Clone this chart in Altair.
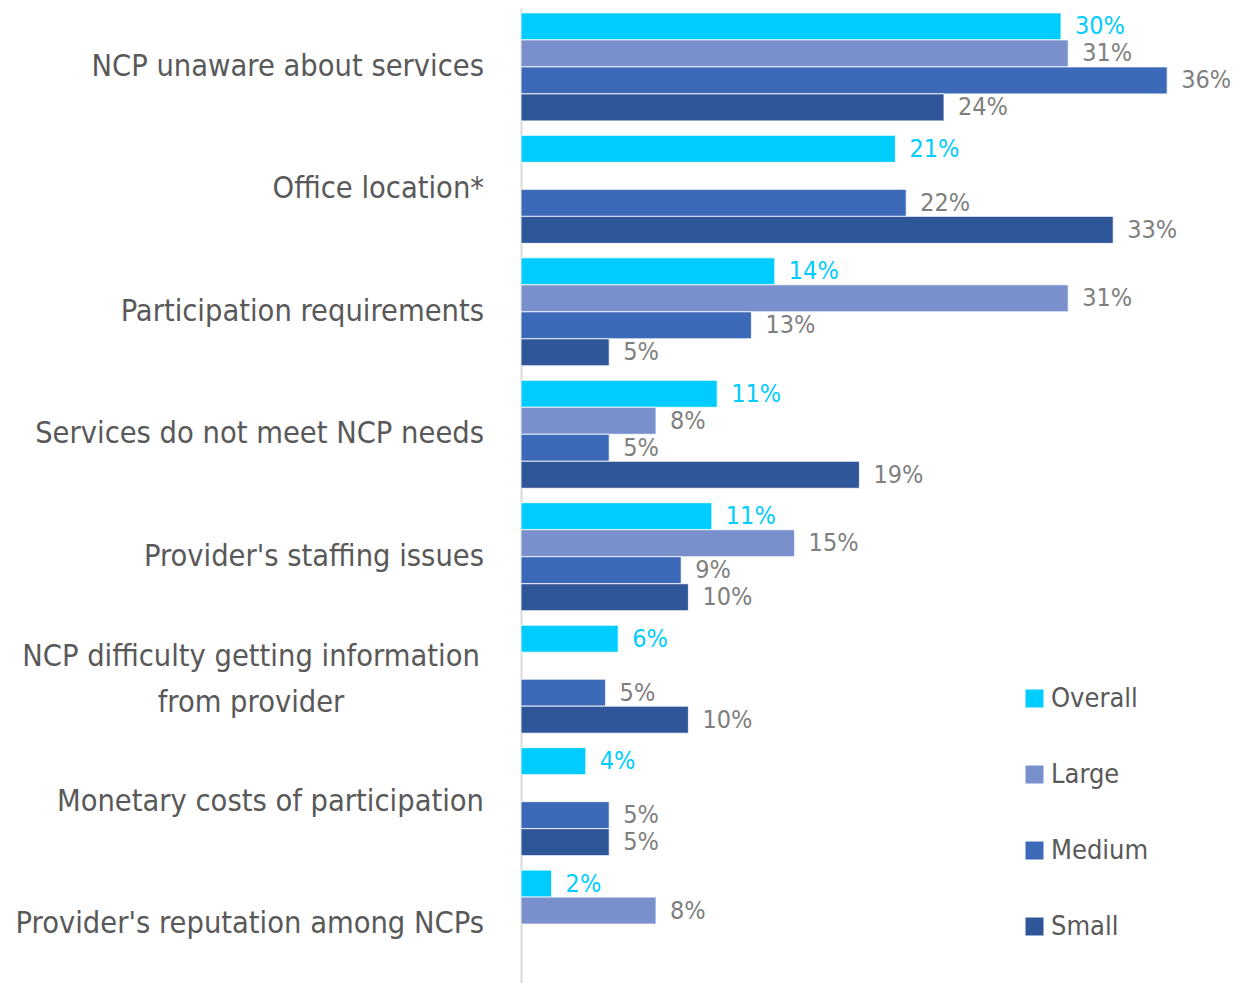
import altair as alt
import pandas as pd

categories = [
    "NCP unaware about services",
    "Office location*",
    "Participation requirements",
    "Services do not meet NCP needs",
    "Provider's staffing issues",
    "NCP difficulty getting information from provider",
    "Monetary costs of participation",
    "Provider's reputation among NCPs",
]
display_labels = [
    "NCP unaware about services",
    "Office location*",
    "Participation requirements",
    "Services do not meet NCP needs",
    "Provider's staffing issues",
    "NCP difficulty getting information\nfrom provider",
    "Monetary costs of participation",
    "Provider's reputation among NCPs",
]
series = ["Overall", "Large", "Medium", "Small"]
colors = ["#00CCFF", "#7990CD", "#3C69B8", "#30569A"]

overall = [30.0, 20.8, 14.1, 10.9, 10.6, 5.4, 3.6, 1.7]
large = [30.4, None, 30.4, 7.5, 15.2, None, None, 7.5]
medium = [35.9, 21.4, 12.8, 4.9, 8.9, 4.7, 4.9, None]
small = [23.5, 32.9, 4.9, 18.8, 9.3, 9.3, 4.9, None]

overall_lbl = ["30%", "21%", "14%", "11%", "11%", "6%", "4%", "2%"]
large_lbl = ["31%", None, "31%", "8%", "15%", None, None, "8%"]
medium_lbl = ["36%", "22%", "13%", "5%", "9%", "5%", "5%", None]
small_lbl = ["24%", "33%", "5%", "19%", "10%", "10%", "5%", None]

rows = []
for s, vals, lbls in zip(series, [overall, large, medium, small],
                         [overall_lbl, large_lbl, medium_lbl, small_lbl]):
    for c, v, l in zip(categories, vals, lbls):
        if v is not None:
            rows.append({"category": c, "series": s, "value": v, "label": l})
df = pd.DataFrame(rows)

cat_df = pd.DataFrame({"category": categories, "disp": display_labels})
cat_df["multi"] = cat_df["disp"].str.contains("\n")

FONT = "DejaVu Sans Condensed, DejaVu Sans, sans-serif"

y_enc = alt.Y(
    "category:N",
    sort=categories,
    scale=alt.Scale(paddingInner=0.118, paddingOuter=0.04),
    axis=alt.Axis(labels=False, ticks=False, title=None, domain=True,
                  domainColor="#D9D9D9", domainWidth=2, grid=False),
)
x_enc = alt.X("value:Q", scale=alt.Scale(domain=[0, 39], nice=False), axis=None)
yoff = alt.YOffset("series:N", sort=series, scale=alt.Scale(paddingInner=0, paddingOuter=0))

bars = alt.Chart(df).mark_bar(stroke="white", strokeWidth=0.8).encode(
    y=y_enc,
    x=x_enc,
    yOffset=yoff,
    color=alt.Color(
        "series:N",
        sort=series,
        scale=alt.Scale(domain=series, range=colors),
        legend=alt.Legend(
            title=None,
            orient="none",
            legendX=500,
            legendY=677,
            symbolType="square",
            symbolSize=324,
            symbolStrokeWidth=0,
            labelFont=FONT,
            labelFontSize=27,
            labelColor="#595959",
            rowPadding=48,
            labelOffset=3,
        ),
    ),
)

values = alt.Chart(df).mark_text(
    align="left", baseline="middle", dx=14, font=FONT, fontSize=25
).encode(
    y=alt.Y("category:N", sort=categories),
    x="value:Q",
    yOffset=yoff,
    text="label:N",
    color=alt.condition(alt.datum.series == "Overall", alt.value("#00CCFF"), alt.value("#7F7F7F")),
)

cat_right = alt.Chart(cat_df).transform_filter(~alt.datum.multi).mark_text(
    align="right", baseline="middle", font=FONT, fontSize=30.5, color="#595959"
).encode(
    y=alt.Y("category:N", sort=categories),
    x=alt.value(-37),
    text="disp:N",
)

cat_multi = alt.Chart(cat_df).transform_filter(alt.datum.multi).mark_text(
    align="center", baseline="middle", font=FONT, fontSize=30.5, color="#595959",
    lineBreak="\n", lineHeight=46, dy=-22,
).encode(
    y=alt.Y("category:N", sort=categories),
    x=alt.value(-270),
    text="disp:N",
)

chart = alt.layer(bars, values, cat_right, cat_multi).properties(
    width=702,
    height=975,
    autosize=alt.AutoSizeParams(type="none"),
    padding={"left": 513, "top": 0, "right": 12, "bottom": 0},
).configure_view(stroke=None)

chart.save("out.html", embed_options={"renderer": "svg", "actions": False})
